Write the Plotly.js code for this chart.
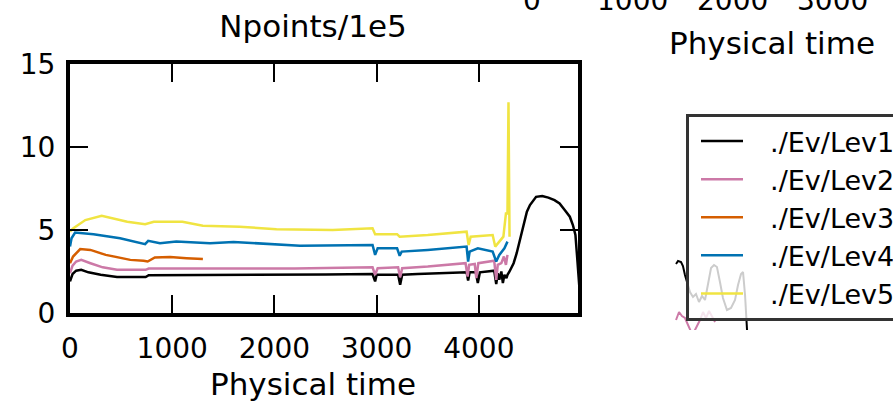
<!DOCTYPE html>
<html>
<head>
<meta charset="utf-8">
<script src="https://cdn.plot.ly/plotly-3.0.1.min.js"></script>
<style>html,body{margin:0;padding:0;background:#fff;}#chart{width:893px;height:402px;}</style>
</head>
<body>
<div id="chart"></div>
<script>
// ---- data ----
const seriesNames = ['./Ev/Lev1', './Ev/Lev2', './Ev/Lev3', './Ev/Lev4', './Ev/Lev5'];
const seriesColors = ['#000000', '#CC79A7', '#D55E00', '#0072B2', '#F0E442'];

const t1 = [0, 25, 60, 110, 180, 300, 460, 600, 740, 770, 1000, 1500, 2000, 2500, 2960, 2985, 3000, 3015, 3100, 3210, 3230, 3250, 3400, 3700, 3880, 3895, 3910, 3970, 3990, 4010, 4100, 4150, 4170, 4185, 4200, 4220, 4235, 4250, 4270, 4280, 4300, 4340, 4370, 4400, 4430, 4470, 4500, 4560, 4620, 4680, 4740, 4790, 4840, 4890, 4920, 4945, 4960, 4975, 4990];
const y1 = [1.9, 2.35, 2.55, 2.6, 2.45, 2.3, 2.17, 2.17, 2.17, 2.28, 2.28, 2.3, 2.3, 2.32, 2.35, 1.9, 2.3, 2.3, 2.3, 2.3, 1.7, 2.3, 2.35, 2.4, 2.45, 1.95, 2.45, 2.45, 1.8, 2.45, 2.5, 2.55, 1.75, 2.4, 2.0, 2.5, 1.8, 2.3, 2.1, 2.3, 2.5, 3.0, 3.6, 4.4, 5.2, 6.1, 6.5, 7.0, 7.05, 6.95, 6.8, 6.6, 6.2, 5.8, 5.3, 4.7, 3.5, 2.2, 1.0];

const t2 = [0, 25, 60, 110, 200, 320, 460, 740, 770, 1500, 2200, 2960, 2985, 3010, 3210, 3230, 3250, 3500, 3870, 3890, 3905, 3960, 3975, 3995, 4100, 4150, 4170, 4185, 4220, 4245, 4265, 4280];
const y2 = [2.4, 2.85, 3.1, 3.2, 3.0, 2.75, 2.6, 2.6, 2.68, 2.68, 2.68, 2.75, 2.3, 2.7, 2.75, 2.15, 2.7, 2.8, 3.0, 2.2, 2.9, 2.95, 2.1, 3.0, 3.1, 3.15, 2.0, 2.9, 3.0, 3.4, 2.9, 3.5];

const t3 = [0, 30, 100, 200, 350, 590, 720, 760, 830, 980, 1140, 1300];
const y3 = [3.0, 3.4, 3.85, 3.8, 3.5, 3.2, 3.15, 3.1, 3.35, 3.37, 3.3, 3.25];

const t4 = [0, 15, 50, 230, 490, 690, 735, 765, 880, 1040, 1370, 1600, 1925, 2250, 2960, 2985, 3010, 3200, 3225, 3245, 3500, 3880, 3895, 3910, 3990, 4135, 4170, 4200, 4250, 4280];
const y4 = [4.0, 4.5, 4.85, 4.75, 4.5, 4.2, 4.15, 4.35, 4.2, 4.3, 4.2, 4.28, 4.15, 4.05, 4.1, 3.5, 3.9, 3.9, 3.45, 3.7, 3.8, 4.0, 3.1, 3.7, 3.9, 3.7, 3.1, 3.5, 3.9, 4.3];

const t5 = [0, 30, 150, 310, 560, 735, 820, 1100, 1300, 1660, 2020, 2570, 2960, 2985, 3200, 3225, 3500, 3880, 3900, 3920, 4135, 4160, 4200, 4240, 4265, 4280, 4290, 4300];
const y5 = [4.9, 5.1, 5.6, 5.85, 5.5, 5.35, 5.5, 5.5, 5.25, 5.2, 5.05, 5.0, 5.1, 4.75, 4.75, 4.6, 4.7, 4.9, 4.1, 4.6, 4.7, 4.0, 4.3, 4.6, 6.0, 6.0, 12.7, 4.6];

const xTicks = [0, 1000, 2000, 3000, 4000];
const yTicks = [0, 5, 10, 15];

// fragments of the neighbouring panels (partly hidden by the legend)
const fragT1 = [1436, 1456, 1486, 1505, 1525, 1555, 1575, 1605, 1635, 1665, 1695, 1725, 1755, 1785, 1815, 1844, 1874, 1904, 1944, 1984, 2024, 2054, 2084, 2104, 2124, 2134, 2144];
const fragY1 = [6.6, 6.9, 6.8, 6.4, 5.5, 4.5, 3.8, 3.3, 3.6, 2.8, 3.4, 3.0, 4.8, 6.2, 6.5, 6.3, 4.8, 3.2, 2.0, 2.2, 3.0, 4.5, 5.6, 5.8, 3.5, 1.2, 0];
const fragT2 = [1436, 1466, 1495, 1525, 1600, 1675, 1705, 1735, 1765, 1795, 1825];
const fragY2 = [1.0, 1.8, 1.4, 1.2, -0.5, 1.0, 1.8, 1.2, 1.9, 1.4, 0.8];
const topTickVals = [0, 1000, 2000, 3000];
const topTickText = ['0', '1000', '2000', '3000'];

// ---- figure ----
const W = 893, H = 402;
const FONT = 'DejaVu Sans, sans-serif';
const GAP = '\u2002\u00a0'; // gap between legend line and label
const xs = [t1, t2, t3, t4, t5];
const ys = [y1, y2, y3, y4, y5];

const traces = xs.map((x, i) => ({
  type: 'scatter', mode: 'lines', x: x, y: ys[i], name: GAP + seriesNames[i],
  line: {color: seriesColors[i], width: 2.5}, xaxis: 'x', yaxis: 'y'
}));
traces.push({type: 'scatter', mode: 'lines', x: fragT1, y: fragY1, showlegend: false,
  line: {color: '#000000', width: 2}, xaxis: 'x3', yaxis: 'y3', hoverinfo: 'skip'});
traces.push({type: 'scatter', mode: 'lines', x: fragT2, y: fragY2, showlegend: false,
  line: {color: '#CC79A7', width: 2}, xaxis: 'x3', yaxis: 'y3', hoverinfo: 'skip'});

const annotations = topTickVals.map((v, i) => ({
  xref: 'x3', yref: 'paper', x: v, y: 1, xanchor: 'center', yanchor: 'middle',
  text: topTickText[i], showarrow: false, font: {family: FONT, size: 28, color: '#000'}
}));
annotations.push({xref: 'x3', yref: 'paper', x: 2393, y: 1 - 43 / H, xanchor: 'center', yanchor: 'middle',
  text: 'Physical time', showarrow: false, font: {family: FONT, size: 31, color: '#000'}});
// x-axis title of the main panel
annotations.push({xref: 'paper', yref: 'paper', x: 313 / W, y: 1 - 384 / H, xanchor: 'center', yanchor: 'middle',
  text: 'Physical time', showarrow: false, font: {family: FONT, size: 31, color: '#000'}});

const layout = {
  width: W, height: H,
  margin: {l: 0, r: 0, t: 0, b: 0, autoexpand: false},
  paper_bgcolor: '#fff', plot_bgcolor: 'rgba(0,0,0,0)',
  showlegend: true,
  title: {text: 'Npoints/1e5', x: 313 / W, xref: 'container', xanchor: 'center',
          y: 1 - 26 / H, yref: 'container', yanchor: 'middle',
          font: {family: FONT, size: 31, color: '#000'}},
  xaxis: {domain: [70 / W, 578 / W], range: [0, 4970], tickvals: xTicks,
          ticks: 'inside', ticklen: 18, tickwidth: 2, tickcolor: '#000',
          showline: true, linewidth: 4, linecolor: '#000', mirror: 'allticks',
          showgrid: false, zeroline: false, ticklabelstandoff: 7,
          tickfont: {family: FONT, size: 28, color: '#000'},
          anchor: 'y'},
  yaxis: {domain: [89 / H, 338 / H], range: [0, 15], tickvals: yTicks,
          ticks: 'inside', ticklen: 18, tickwidth: 2, tickcolor: '#000',
          showline: true, linewidth: 4, linecolor: '#000', mirror: 'allticks',
          showgrid: false, zeroline: false, ticklabelstandoff: 5,
          tickfont: {family: FONT, size: 28, color: '#000'}, anchor: 'x'},
  xaxis3: {domain: [532 / W, 1], range: [0, (W - 532) / 0.1003], visible: false, anchor: 'y3'},
  yaxis3: {domain: [1 - 330 / H, 1 - 255 / H], range: [0, 7.5], visible: false, anchor: 'x3'},
  legend: {x: 686 / W, y: 1 - 114 / H, xref: 'paper', yref: 'paper', xanchor: 'left', yanchor: 'top',
           bgcolor: 'rgba(255,255,255,0.8)', bordercolor: '#333', borderwidth: 3,
           itemwidth: 42, indentation: 7,
           font: {family: FONT, size: 27, color: '#000'}},
  annotations: annotations
};

Plotly.newPlot('chart', traces, layout, {staticPlot: true, displayModeBar: false});
</script>
</body>
</html>
